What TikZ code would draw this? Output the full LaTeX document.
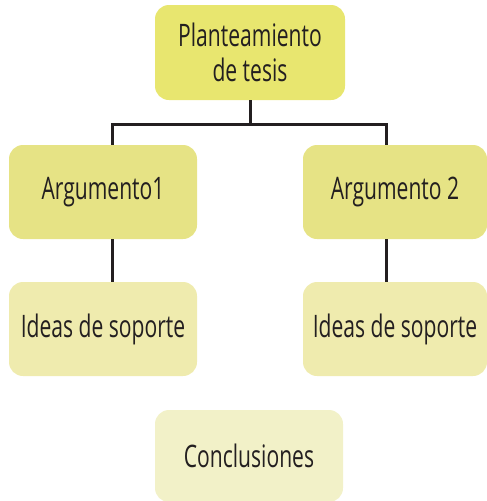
\documentclass[tikz,border=0pt]{standalone}
\usepackage{fontspec}
\setmainfont{Open Sans}[FakeStretch=0.68]
\usetikzlibrary{positioning}
\definecolor{inkdark}{HTML}{231F20}
\definecolor{tesisfill}{HTML}{E8E66F}
\definecolor{argfill}{HTML}{E6E385}
\definecolor{ideafill}{HTML}{EFEBAE}
\definecolor{conclfill}{HTML}{F2F1C8}
\tikzset{
  boxnode/.style={rounded corners=14pt,align=center,inner sep=0pt,text=inkdark,
    font=\fontsize{31}{35}\selectfont,minimum width=188pt,minimum height=94pt},
  joinline/.style={draw=inkdark,line width=3pt}
}

\begin{document}
\begin{tikzpicture}[x=1pt,y=-1pt]
\useasboundingbox (0,0) rectangle (487,501);
\node[boxnode,fill=tesisfill,minimum width=190pt,minimum height=95pt] (tesis) at (250,52.5) {Planteamiento\\de tesis};
\node[boxnode,fill=argfill] (arg1) at (103,192) {Argumento1};
\node[boxnode,fill=argfill,minimum width=184pt] (arg2) at (395,192) {Argumento 2};
\node[boxnode,fill=ideafill] (ideas1) at (103,329) {Ideas de soporte};
\node[boxnode,fill=ideafill,minimum width=184pt] (ideas2) at (395,329) {Ideas de soporte};
\node[boxnode,fill=conclfill,minimum height=92pt] (concl) at (249,456) {Conclusiones};
\coordinate (junction) at (250,124);
\draw[joinline] (tesis.south) -- (junction);
\draw[joinline] ([xshift=9pt]arg1.north) |- (junction) -| ([xshift=-9pt]arg2.north);
\draw[joinline] ([xshift=9pt]arg1.south) -- ([xshift=9pt]ideas1.north);
\draw[joinline] ([xshift=-9pt]arg2.south) -- ([xshift=-9pt]ideas2.north);
\end{tikzpicture}
\end{document}
